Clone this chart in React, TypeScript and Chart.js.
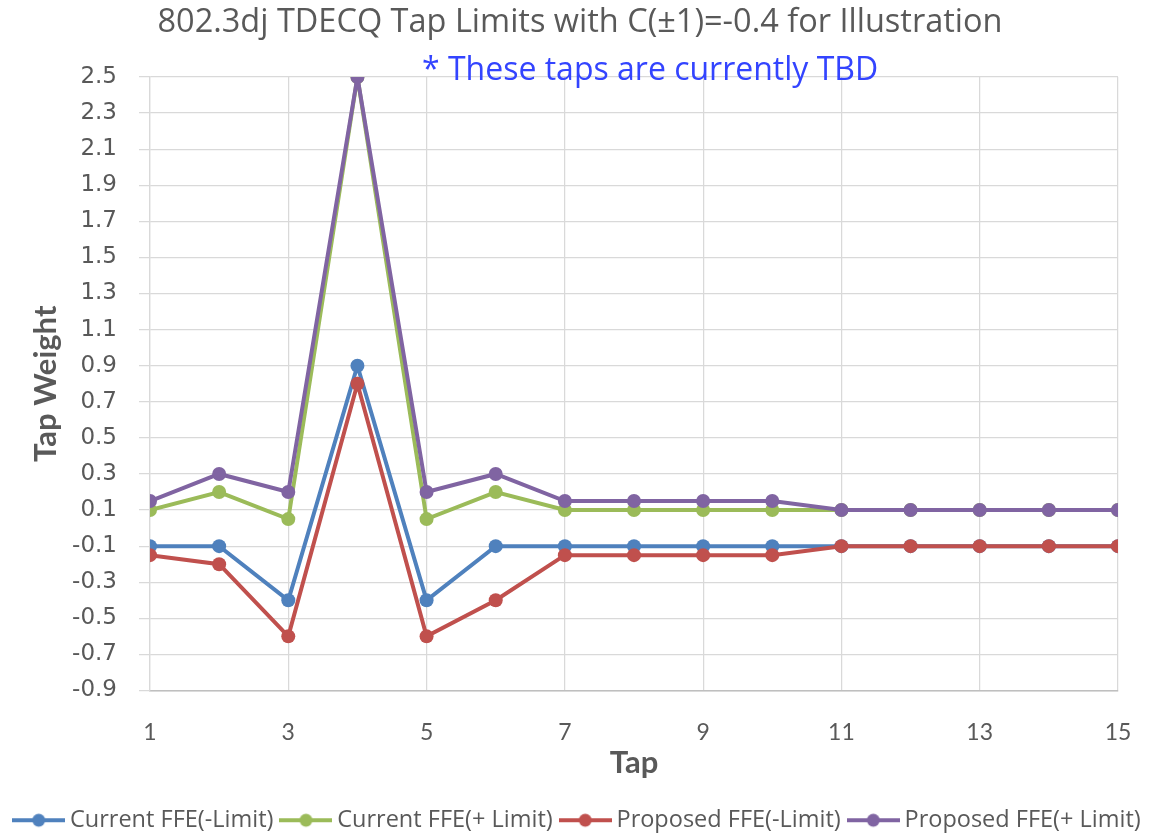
import React, { useEffect, useRef } from "react";
import { Chart, registerables } from "chart.js";

Chart.register(...registerables);

// ---- Data ----
const taps = [1, 2, 3, 4, 5, 6, 7, 8, 9, 10, 11, 12, 13, 14, 15];
const currentMinus = [-0.1, -0.1, -0.4, 0.9, -0.4, -0.1, -0.1, -0.1, -0.1, -0.1, -0.1, -0.1, -0.1, -0.1, -0.1];
const currentPlus = [0.1, 0.2, 0.05, 2.5, 0.05, 0.2, 0.1, 0.1, 0.1, 0.1, 0.1, 0.1, 0.1, 0.1, 0.1];
const proposedMinus = [-0.15, -0.2, -0.6, 0.8, -0.6, -0.4, -0.15, -0.15, -0.15, -0.15, -0.1, -0.1, -0.1, -0.1, -0.1];
const proposedPlus = [0.15, 0.3, 0.2, 2.5, 0.2, 0.3, 0.15, 0.15, 0.15, 0.15, 0.1, 0.1, 0.1, 0.1, 0.1];

const seriesNames = ["Current FFE(-Limit)", "Current FFE(+ Limit)", "Proposed FFE(-Limit)", "Proposed FFE(+ Limit)"];
const seriesValues = [currentMinus, currentPlus, proposedMinus, proposedPlus];
const seriesColors = ["#4F81BD", "#9BBB59", "#C0504D", "#8064A2"];
const seriesOrder = [3, 2, 1, 0];

const xMin = 1;
const xMax = 15;
const xStep = 2;
const yMin = -0.9;
const yMax = 2.5;
const yStep = 0.2;

const titleText = "802.3dj TDECQ Tap Limits with C(\u00B11)=-0.4 for Illustration";
const noteText = "* These taps are currently TBD";
const xTitle = "Tap";
const yTitle = "Tap Weight";

const TEXT = "#595959";
const GRID = "#D9D9D9";
const LATO = "Lato, 'Open Sans', sans-serif";
const OPEN = "'Open Sans', Lato, sans-serif";

function makeLegendImage(color: string): HTMLCanvasElement {
  const c = document.createElement("canvas");
  c.width = 53;
  c.height = 16;
  const g = c.getContext("2d")!;
  g.strokeStyle = color;
  g.lineWidth = 4;
  g.beginPath();
  g.moveTo(0, 8);
  g.lineTo(53, 8);
  g.stroke();
  g.fillStyle = color;
  g.beginPath();
  g.arc(26.5, 8, 6.5, 0, Math.PI * 2);
  g.fill();
  return c;
}

const notePlugin = {
  id: "notePlugin",
  afterDraw(chart: any) {
    const { ctx, chartArea } = chart;
    ctx.save();
    ctx.font = "32px " + OPEN;
    ctx.fillStyle = "#3344FF";
    ctx.textAlign = "left";
    ctx.textBaseline = "middle";
    ctx.fillText(noteText, chartArea.left + 272, chartArea.top - 6);
    ctx.restore();
  },
};

export default function App() {
  const ref = useRef<HTMLCanvasElement | null>(null);

  useEffect(() => {
    document.body.style.margin = "0";
    const canvas = ref.current!;
    const legendImgs = seriesColors.map(makeLegendImage);

    const chart = new Chart(canvas, {
      type: "line",
      data: {
        datasets: seriesNames.map((name, i) => ({
          label: name,
          data: taps.map((t, j) => ({ x: t, y: seriesValues[i][j] })),
          borderColor: seriesColors[i],
          backgroundColor: seriesColors[i],
          borderWidth: 4,
          pointRadius: 7,
          pointHoverRadius: 7,
          pointBorderWidth: 0,
          pointBackgroundColor: seriesColors[i],
          tension: 0,
          order: seriesOrder[i],
          xAxisID: "x",
          yAxisID: "y",
        })),
      },
      options: {
        responsive: false,
        maintainAspectRatio: false,
        animation: false,
        layout: { padding: { left: 0, right: 0, top: 0, bottom: -9 } },
        plugins: {
          title: {
            display: true,
            text: titleText,
            color: TEXT,
            font: { family: OPEN, size: 32.5, weight: "normal" },
            padding: { top: 3, bottom: 35 },
          },
          legend: {
            display: true,
            position: "bottom",
            labels: {
              usePointStyle: true,
              pointStyleWidth: 39,
              boxHeight: 16,
              padding: 13,
              color: TEXT,
              font: { family: OPEN, size: 23.5 },
              generateLabels: (ch: any) =>
                ch.data.datasets.map((ds: any, i: number) => ({
                  text: ds.label,
                  fillStyle: ds.borderColor,
                  strokeStyle: ds.borderColor,
                  lineWidth: 0,
                  pointStyle: legendImgs[i],
                  hidden: false,
                  datasetIndex: i,
                  fontColor: TEXT,
                })),
            },
          },
          tooltip: { enabled: false },
        },
        scales: {
          x: {
            type: "linear",
            min: xMin,
            max: xMax,
            afterFit: (s: any) => {
              s.height = 105;
            },
            ticks: {
              stepSize: xStep,
              color: TEXT,
              font: { family: LATO, size: 23 },
              padding: 28,
              maxRotation: 0,
              autoSkip: false,
            },
            grid: { color: GRID, lineWidth: 1.25, drawTicks: false },
            border: { color: "#BFBFBF", width: 1.5 },
            title: {
              display: true,
              text: xTitle,
              color: TEXT,
              font: { family: LATO, size: 31, weight: "bold" },
              padding: { top: 0, bottom: 14 },
            },
          },
          y: {
            type: "linear",
            position: "left",
            min: yMin,
            max: yMax,
            afterFit: (s: any) => {
              s.width = 150;
            },
            ticks: {
              stepSize: yStep,
              color: TEXT,
              font: { family: "'DejaVu Sans', Verdana, sans-serif", size: 23 },
              padding: 22,
              autoSkip: false,
              callback: (v: any) => Number(v).toFixed(1),
            },
            grid: { color: GRID, lineWidth: 1.25, drawTicks: true, tickLength: 11, tickColor: GRID },
            border: { color: GRID, width: 1.25 },
            title: {
              display: true,
              text: yTitle,
              color: TEXT,
              font: { family: LATO, size: 31, weight: "bold" },
              padding: { top: 27, bottom: 0 },
            },
          },
          yRight: {
            type: "linear",
            position: "right",
            display: true,
            afterFit: (s: any) => {
              s.width = 42;
            },
            ticks: { display: false },
            grid: { display: false, drawTicks: false },
            border: { display: false },
          },
        },
      },
      plugins: [notePlugin],
    } as any);

    return () => chart.destroy();
  }, []);

  return (
    <div style={{ width: 1160, height: 833 }}>
      <canvas ref={ref} width={1160} height={833} />
    </div>
  );
}
